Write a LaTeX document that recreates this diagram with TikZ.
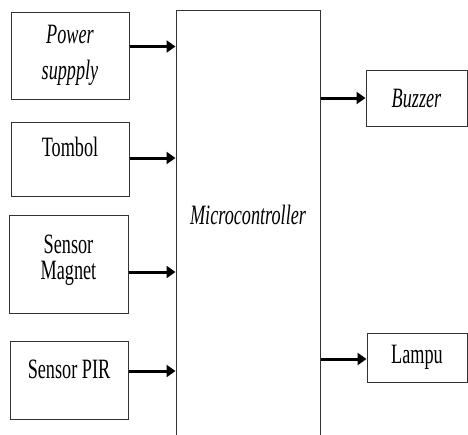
\documentclass[tikz,border=0pt]{standalone}
\usepackage{fontspec}
\usepackage{graphicx}
\setmainfont{Liberation Serif}
\newcommand\nar[1]{\scalebox{0.65}[1]{#1}}
\usetikzlibrary{arrows.meta}
\tikzset{
  blk/.style={draw=black!80, line width=1pt, rectangle, inner sep=0pt, align=center,
    font=\fontsize{28}{36}\selectfont},
  arr/.style={line width=3pt, -{Triangle[length=9pt,width=12pt]}}
}
\begin{document}
\begin{tikzpicture}[x=1pt,y=-1pt]
\useasboundingbox (0,0) rectangle (468,434);
% input blocks
\node[blk, minimum width=118pt, minimum height=87pt] (ps) at (70,55.5)
  {\nar{\itshape Power}\\\nar{\itshape suppply}};
\node[blk, minimum width=118pt, minimum height=74pt] (tb) at (70,159)
  {\raisebox{12pt}[\height][\depth]{\nar{Tombol}}};
\node[blk, minimum width=119pt, minimum height=98pt] (sm) at (68.5,264)
  {\raisebox{4pt}[\height][\depth]{\shortstack{\nar{Sensor}\\[4pt]\nar{Magnet}}}};
\node[blk, minimum width=118pt, minimum height=78pt] (pir) at (69,380)
  {\raisebox{11pt}[\height][\depth]{\nar{Sensor PIR}}};
% microcontroller (extends below the page)
\node[blk, minimum width=144pt, minimum height=450pt] (mc) at (248,235)
  {\raisebox{20pt}[\height][\depth]{\nar{\itshape Microcontroller}}};
% outputs
\node[blk, minimum width=101pt, minimum height=56pt] (bz) at (416.5,98)
  {\nar{\itshape Buzzer}};
\node[blk, minimum width=100pt, minimum height=49pt] (lp) at (417,357.5)
  {\nar{Lampu}};
% connectors
\coordinate (a1) at ([yshift=9pt]ps.east);
\coordinate (a2) at ([yshift=1pt]tb.east);
\coordinate (a3) at ([yshift=-8pt]sm.east);
\coordinate (a4) at ([yshift=9pt]pir.east);
\draw[arr] (a1) -- (a1 -| mc.west);
\draw[arr] (a2) -- (a2 -| mc.west);
\draw[arr] (a3) -- (a3 -| mc.west);
\draw[arr] (a4) -- (a4 -| mc.west);
\draw[arr] (bz.west -| mc.east) -- (bz.west);
\draw[arr] ([yshift=-1.5pt]lp.west -| mc.east) -- ([yshift=-1.5pt]lp.west);
\end{tikzpicture}
\end{document}
